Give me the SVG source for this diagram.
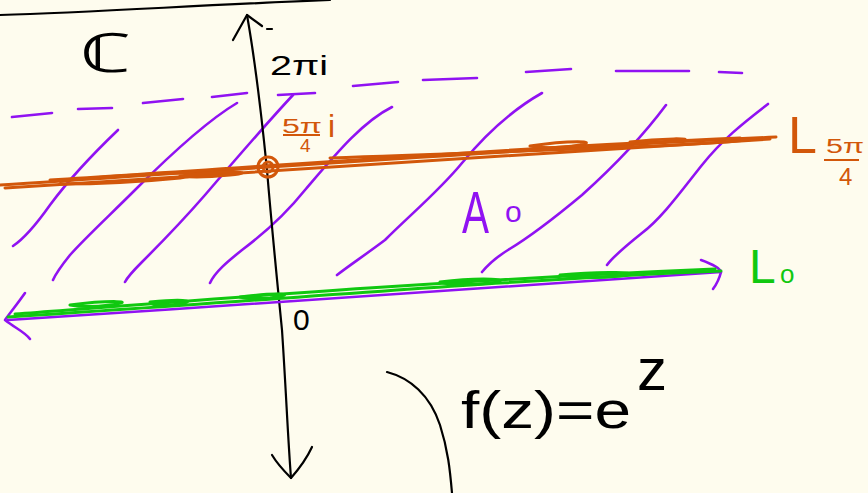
<svg xmlns="http://www.w3.org/2000/svg" width="868" height="493" viewBox="0 0 868 493">
<style>
.bk{fill:none;stroke:#000;stroke-width:2.2;stroke-linecap:round;stroke-linejoin:round}
.pu{fill:none;stroke:#9012F2;stroke-width:2.6;stroke-linecap:round;stroke-linejoin:round}
.or{fill:none;stroke:#D2570A;stroke-width:3;stroke-linecap:round;stroke-linejoin:round}
.gr{fill:none;stroke:#10C810;stroke-width:3;stroke-linecap:round;stroke-linejoin:round}
.t{font-family:"Liberation Sans",Arial,sans-serif}
</style>
<rect width="868" height="493" fill="#FEFCEE"/>
<g id="top-border"><path class="bk" d="M0,15 C100,12 200,5 330,0"/></g>
<g id="hatching">
<path class="pu" d="M12,117 L52,113 M78,109 L112,108 M143,103 L183,99 M212,97 L247,93 M278,95 L315,93 M353,86 L398,82 M423,80 L477,78 M526,72 L571,69 M616,71 L689,71 M719,72 L742,73"/>
<path class="pu" d="M118,130 C95,152 70,178 50,205 C38,222 25,238 13,246"/>
<path class="pu" d="M237,103 C205,122 165,160 135,190 C110,215 85,238 70,255 C62,265 56,273 53,280"/>
<path class="pu" d="M293,95 C265,125 235,160 205,195 C185,218 162,242 142,262 C132,272 127,278 125,282"/>
<path class="pu" d="M392,107 C362,122 335,155 305,190 C285,215 262,235 242,250 C227,262 215,272 210,283"/>
<path class="pu" d="M542,93 C512,110 485,135 462,163 C440,190 410,215 385,240 C365,255 350,265 337,275"/>
<path class="pu" d="M666,105 C640,140 612,168 582,195 C552,220 528,238 508,250 C495,258 487,266 482,272"/>
<path class="pu" d="M768,104 C742,124 722,140 702,165 C682,190 662,218 642,233 C627,245 612,258 607,265"/>
</g>
<g id="axis">
<path class="bk" d="M247,15 C255,60 262,120 267,170 C272,230 278,290 282,330 C286,390 288,440 291,478"/>
<path class="bk" d="M233,40 L247,15 L262,26"/>
<path class="bk" d="M272,455 C278,465 285,472 291,478 C298,470 306,460 312,447"/>
<path class="bk" d="M267,29 L272,29"/>
</g>
<g id="line-L5pi4">
<path class="or" d="M0,185 C200,172 500,150 776,137"/>
<path class="or" d="M5,188 C200,176 500,156 770,139" stroke-width="2.2"/>
<path class="or" d="M50,180 C250,168 500,148 740,138" stroke-width="2.2"/>
<path class="or" d="M60,181 C150,172 230,170 180,178 C140,182 100,184 60,184" stroke-width="1.8"/>
<path class="or" d="M180,176 C230,170 260,172 230,175 C210,177 195,178 180,176" stroke-width="1.8"/>
<path class="or" d="M530,146 C570,140 600,141 580,145 C560,148 540,148 530,146" stroke-width="1.8"/>
<path class="or" d="M630,142 C660,138 700,138 680,141" stroke-width="1.8"/>
<path class="or" d="M330,158 C600,148 700,146 755,139" stroke-width="4"/>
<circle cx="268" cy="167" r="10" fill="none" stroke="#D2570A" stroke-width="3"/>
<circle cx="268" cy="167" r="5" fill="none" stroke="#D2570A" stroke-width="3"/>
</g>
<g id="line-L0">
<path class="pu" d="M8,320 C250,305 500,285 721,272"/>
<path class="pu" d="M25,293 C18,303 10,313 5,320 C15,328 25,332 30,339"/>
<path class="pu" d="M701,260 C712,264 720,268 721,272 C719,280 716,285 713,289"/>
<path class="gr" d="M8,317 C250,302 500,280 721,271" stroke-width="4"/>
<path class="gr" d="M15,314 C200,300 450,280 715,269" stroke-width="2.2"/>
<path class="gr" d="M70,305 C110,300 140,301 110,305 C95,307 80,307 70,305 M150,302 C190,298 200,302 170,305 C160,306 150,305 150,302 M240,297 C280,292 300,294 270,298 C258,299 248,299 240,297 M440,282 C480,277 520,279 490,283 C470,285 450,285 440,282 M560,275 C600,271 650,272 620,276 C600,278 575,278 560,275" stroke-width="1.8"/>
</g>
<g id="curve"><path class="bk" d="M387,372 C410,378 430,395 440,425 C448,450 450,470 452,493"/></g>
<g id="labels">
<text class="t" x="80" y="72" font-size="54" textLength="52" lengthAdjust="spacingAndGlyphs" font-family="DejaVu Sans">ℂ</text>
<text class="t" x="270" y="75" font-size="28" textLength="58" lengthAdjust="spacingAndGlyphs">2πi</text>
<text class="t" x="293" y="330" font-size="30">0</text>
<g fill="#D2570A">
<text class="t" x="282" y="133" font-size="20" textLength="40" lengthAdjust="spacingAndGlyphs">5π</text>
<text class="t" x="300" y="152" font-size="19">4</text>
<text class="t" x="328" y="137" font-size="32">i</text>
<text class="t" x="788" y="153" font-size="52">L</text>
<text class="t" x="826" y="153" font-size="20" textLength="38" lengthAdjust="spacingAndGlyphs">5π</text>
<text class="t" x="839" y="185" font-size="24">4</text>
</g>
<path d="M283,135 L320,135 M824,160 L859,160" stroke="#D2570A" stroke-width="2.2" fill="none"/>
<g fill="#9012F2">
<text class="t" x="462" y="233" font-size="60" textLength="27" lengthAdjust="spacingAndGlyphs">A</text>
<text class="t" x="505" y="222" font-size="30">o</text>
</g>
<g fill="#10C810">
<text class="t" x="749" y="283" font-size="48">L</text>
<text class="t" x="780" y="283" font-size="26">o</text>
</g>
<text class="t" x="461" y="428" font-size="52" textLength="170" lengthAdjust="spacingAndGlyphs">f(z)=e</text>
<text class="t" x="637" y="390" font-size="60">z</text>
</g>
</svg>
